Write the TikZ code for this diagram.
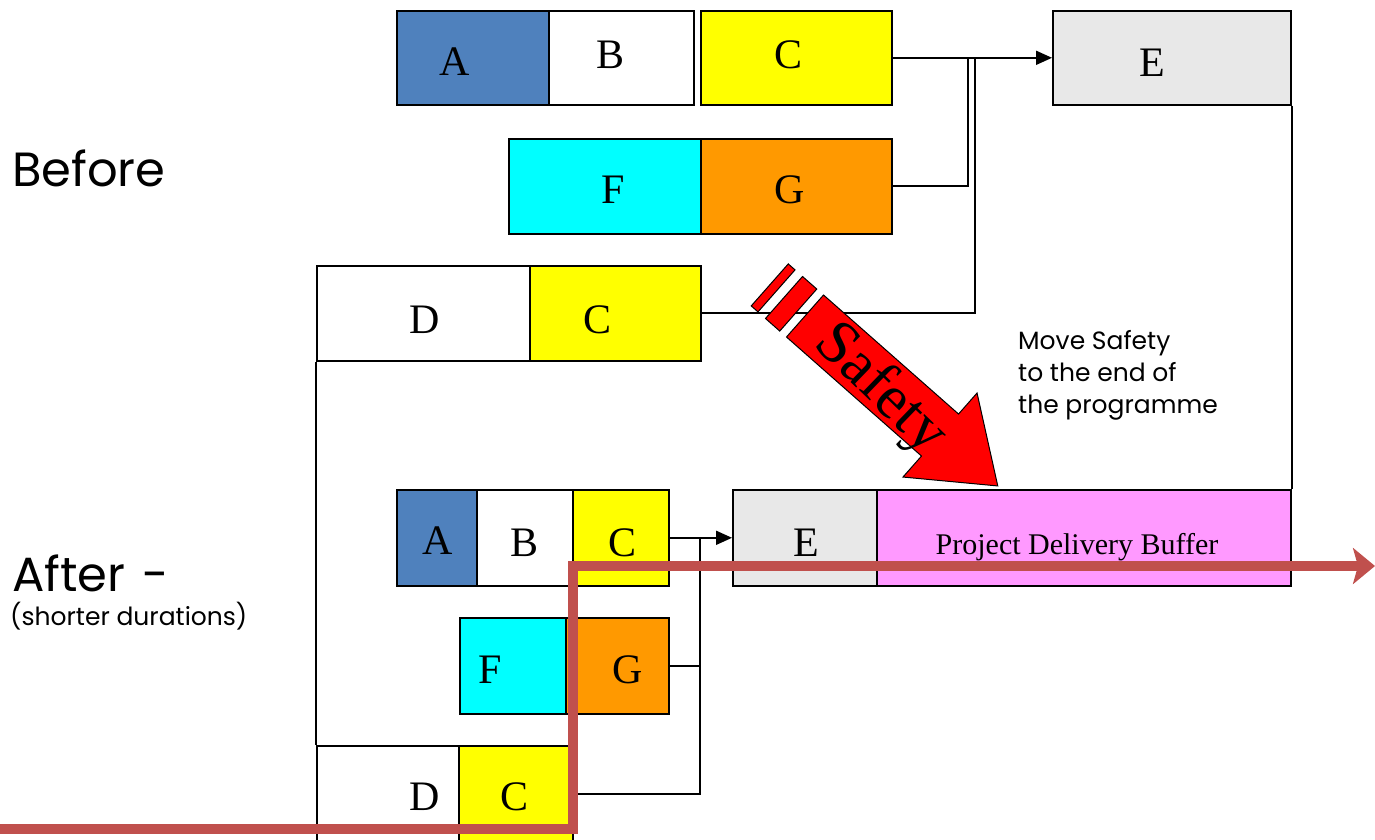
\documentclass[tikz,border=0pt]{standalone}
\usepackage{fontspec}
\setmainfont{Liberation Serif}
\newfontfamily\handfont{Poppins}
\usetikzlibrary{arrows.meta}
\definecolor{taskblue}{HTML}{4F81BD}
\definecolor{taskyellow}{HTML}{FFFF00}
\definecolor{taskcyan}{HTML}{00FFFF}
\definecolor{taskorange}{HTML}{FF9900}
\definecolor{taskgrey}{HTML}{E8E8E8}
\definecolor{bufferpink}{HTML}{FF99FF}
\definecolor{safetyred}{HTML}{FF0000}
\definecolor{todayred}{HTML}{C0504D}
\tikzset{
    task/.style={draw=black, line width=1.6pt, inner sep=0pt, anchor=north west},
    tag/.style={font=\fontsize{42}{50}\selectfont, inner sep=0pt},
    link/.style={draw=black, line width=1.8pt},
    flow/.style={link, -{Triangle[length=16pt,width=14pt]}},
    hand/.style={font=\handfont, inner sep=0pt, anchor=west, align=left},
    today/.style={draw=todayred, line width=10pt, line join=miter,
        -{Stealth[length=22pt,width=36pt,inset=5pt]}},
}

\begin{document}
\begin{tikzpicture}[x=1pt, y=-1pt]
\useasboundingbox (0,0) rectangle (1375,839);
\clip (0,0) rectangle (1375,839);

% before: original plan
\node[task, fill=taskblue, minimum width=152pt, minimum height=94pt] (a1) at (396,10) {};
\node[task, fill=white, minimum width=145pt, minimum height=94pt] (b1) at (548,10) {};
\node[task, fill=taskyellow, minimum width=191pt, minimum height=94pt] (c1) at (700,10) {};
\node[task, fill=taskgrey, minimum width=238pt, minimum height=94pt] (e1) at (1052,10) {};
\node[task, fill=taskcyan, minimum width=192pt, minimum height=95pt] (f1) at (508,138) {};
\node[task, fill=taskorange, minimum width=191pt, minimum height=95pt] (g1) at (700,138) {};
\node[task, fill=white, minimum width=213pt, minimum height=95pt] (d1) at (316,265) {};
\node[task, fill=taskyellow, minimum width=171pt, minimum height=95pt] (c2) at (529,265) {};

\node[tag] (a1t) at (455,62) {A};
\node[tag] (b1t) at (610,55) {B};
\node[tag] (c1t) at (788,55) {C};
\node[tag] (e1t) at (1152,63) {E};
\node[tag] (f1t) at (613,190) {F};
\node[tag] (g1t) at (790,190) {G};
\node[tag] (d1t) at (425,320) {D};
\node[tag] (c2t) at (597,320) {C};

% after: shorter tasks, buffer at the end
\node[task, fill=taskblue, minimum width=80pt, minimum height=96pt] (a2) at (396,489) {};
\node[task, fill=white, minimum width=96pt, minimum height=96pt] (b2) at (476,489) {};
\node[task, fill=taskyellow, minimum width=96pt, minimum height=96pt] (c3) at (572,489) {};
\node[task, fill=taskgrey, minimum width=144pt, minimum height=96pt] (e2) at (732,489) {};
\node[task, fill=bufferpink, minimum width=414pt, minimum height=96pt] (buf) at (876,489) {};
\node[task, fill=taskcyan, minimum width=106pt, minimum height=96pt] (f2) at (459,617) {};
\node[task, fill=taskorange, minimum width=103pt, minimum height=96pt] (g2) at (565,617) {};
\node[task, fill=white, minimum width=142pt, minimum height=96pt] (d2) at (316,745) {};
\node[task, fill=taskyellow, minimum width=114pt, minimum height=96pt] (c4) at (458,745) {};

\node[tag] (a2t) at (438,541) {A};
\node[tag] (b2t) at (524,543) {B};
\node[tag] (c3t) at (622,543) {C};
\node[tag] (e2t) at (806,543) {E};
\node[tag, font=\fontsize{30}{36}\selectfont] (buft) at (1077,547) {Project Delivery Buffer};
\node[tag] (f2t) at (490,670) {F};
\node[tag] (g2t) at (628,670) {G};
\node[tag] (d2t) at (425,797) {D};
\node[tag] (c4t) at (514,797) {C};

% dependencies
\coordinate (j1) at (968,57);
\coordinate (j2) at (975,57);
\coordinate (j3) at (700,537);
\draw[flow] (c1.east) -- (e1.west);
\draw[link] (g1.east) -| (j1);
\draw[link] (c2.east) -| (j2);
\draw[link] (e1.south east) -- (buf.north east);
\draw[link] (d1.south west) -- (d2.north west);
\draw[flow] (c3.east) -- (e2.west);
\draw[link] (g2.east) -| (j3);
\draw[link] (c4.east) -| (j3);

% safety arrow
\begin{scope}[shift={(805,316)}, rotate=-41.4]
\filldraw[fill=safetyred, draw=black, line width=1pt]
    (0,-28) -- (180,-28) -- (180,-56) -- (257,0) -- (180,56) -- (180,28) -- (0,28) -- cycle;
\filldraw[fill=safetyred, draw=black, line width=1pt] (-28,-28) rectangle (-9,28);
\filldraw[fill=safetyred, draw=black, line width=1pt] (-47,-28) rectangle (-38,28);
\end{scope}
\node[tag, font=\fontsize{62}{70}\selectfont, rotate=-44] (safety) at (880,390) {Safety};

% labels
\node[hand, font=\handfont\fontsize{48}{56}\selectfont] (before) at (12,168) {Before};
\node[hand, font=\handfont\fontsize{48}{56}\selectfont] (after) at (12,573) {After\hspace{0.35em}-};
\node[hand, font=\handfont\fontsize{25}{30}\selectfont] (shorter) at (10,616) {(shorter durations)};
\node[hand, font=\handfont\fontsize{25}{32}\selectfont] (move) at (1018,375)
    {Move Safety\\to the end of\\the programme};

% today line
\draw[today] (0,829) -- (573,829) -- (573,566) -- (1375,566);
\end{tikzpicture}
\end{document}
